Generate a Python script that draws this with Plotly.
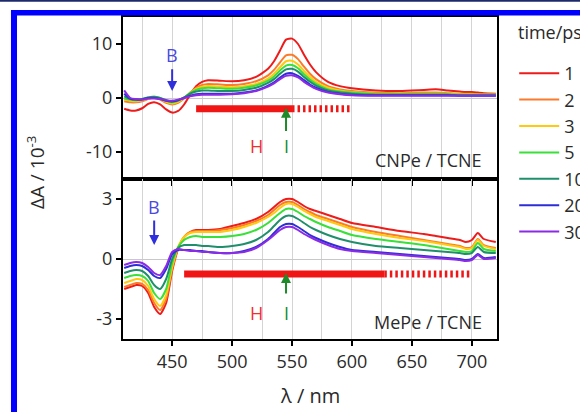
import plotly.graph_objects as go

# ---------------- data ----------------
wavelength_nm = [410, 415, 420, 425, 430, 435, 440, 445, 450, 455, 460, 465, 470, 475, 480,
                 490, 500, 510, 520, 530, 535, 540, 545, 550, 555, 560, 565, 570, 580, 590,
                 600, 620, 640, 660, 670, 680, 690, 695, 700, 705, 710, 720]

time_labels = ["1", "2", "3", "5", "10", "20", "30"]

# CNPe / TCNE  (dA / 1e-3)
cnpe_1ps = [-2.0, -2.3, -2.3, -1.9, -1.1, -0.8, -1.2, -2.1, -2.7, -2.4, -1.2, 0.6, 2.2, 3.0, 3.3,
            3.2, 3.1, 3.3, 3.9, 5.4, 6.8, 8.8, 10.8, 11.0, 10.0, 8.0, 6.2, 4.8, 3.0, 2.2,
            1.8, 1.4, 1.3, 1.5, 1.6, 1.4, 1.2, 1.1, 1.1, 1.0, 0.9, 0.8]
cnpe_2ps = [-0.6, -0.8, -0.8, -0.6, -0.2, 0.1, -0.3, -0.9, -1.2, -0.9, -0.1, 1.0, 1.9, 2.4, 2.6,
            2.5, 2.4, 2.6, 3.1, 4.2, 5.2, 6.6, 7.9, 8.0, 7.2, 5.8, 4.5, 3.5, 2.2, 1.6,
            1.3, 1.0, 0.9, 1.0, 1.0, 0.9, 0.8, 0.8, 0.8, 0.7, 0.7, 0.7]
cnpe_3ps = [-0.3, -0.5, -0.6, -0.4, -0.1, 0.2, -0.2, -0.7, -1.0, -0.7, 0.0, 0.9, 1.7, 2.1, 2.2,
            2.1, 2.0, 2.2, 2.6, 3.6, 4.5, 5.7, 6.8, 6.9, 6.2, 5.0, 3.9, 3.0, 1.9, 1.4,
            1.1, 0.8, 0.8, 0.8, 0.8, 0.8, 0.7, 0.7, 0.7, 0.6, 0.6, 0.6]
cnpe_5ps = [-0.1, -0.3, -0.4, -0.2, 0.1, 0.3, 0.0, -0.5, -0.8, -0.5, 0.1, 0.9, 1.5, 1.8, 1.9,
            1.8, 1.7, 1.9, 2.3, 3.2, 4.0, 5.1, 6.0, 6.1, 5.5, 4.4, 3.4, 2.6, 1.6, 1.2,
            1.0, 0.7, 0.7, 0.7, 0.7, 0.7, 0.6, 0.6, 0.6, 0.6, 0.6, 0.6]
cnpe_10ps = [0.3, -0.2, -0.3, -0.2, 0.1, 0.2, 0.0, -0.4, -0.7, -0.4, 0.1, 0.8, 1.2, 1.4, 1.4,
             1.3, 1.3, 1.5, 1.9, 2.8, 3.5, 4.5, 5.3, 5.4, 4.9, 3.9, 3.0, 2.3, 1.4, 1.0,
             0.8, 0.6, 0.6, 0.6, 0.6, 0.6, 0.5, 0.5, 0.5, 0.5, 0.5, 0.5]
cnpe_20ps = [0.8, -0.1, -0.3, -0.3, 0.0, 0.0, -0.2, -0.5, -0.6, -0.4, 0.0, 0.4, 0.7, 0.8, 0.8,
             0.8, 0.8, 1.0, 1.4, 2.3, 2.9, 3.8, 4.5, 4.6, 4.1, 3.3, 2.5, 1.9, 1.1, 0.8,
             0.6, 0.5, 0.5, 0.5, 0.5, 0.5, 0.4, 0.4, 0.4, 0.4, 0.4, 0.4]
cnpe_30ps = [1.4, 0.0, -0.2, -0.3, -0.1, -0.1, -0.2, -0.4, -0.5, -0.3, 0.0, 0.3, 0.5, 0.6, 0.6,
             0.6, 0.7, 0.9, 1.3, 2.1, 2.7, 3.5, 4.1, 4.2, 3.8, 3.0, 2.3, 1.7, 1.0, 0.7,
             0.5, 0.4, 0.4, 0.4, 0.4, 0.4, 0.4, 0.4, 0.4, 0.4, 0.4, 0.4]

# MePe / TCNE  (dA / 1e-3)
mepe_1ps = [-1.5, -1.4, -1.3, -1.35, -1.7, -2.4, -2.75, -2.2, -0.6, 0.5, 1.1, 1.35, 1.45, 1.45, 1.45,
            1.5, 1.65, 1.8, 2.0, 2.35, 2.6, 2.85, 3.0, 3.0, 2.85, 2.65, 2.5, 2.4, 2.2, 2.0,
            1.8, 1.6, 1.4, 1.25, 1.15, 1.05, 0.95, 0.85, 0.95, 1.3, 1.0, 0.85]
mepe_2ps = [-1.4, -1.3, -1.2, -1.25, -1.55, -2.2, -2.55, -2.0, -0.5, 0.55, 1.1, 1.35, 1.4, 1.4, 1.4,
            1.45, 1.55, 1.7, 1.9, 2.2, 2.45, 2.7, 2.85, 2.85, 2.7, 2.5, 2.35, 2.2, 2.0, 1.8,
            1.6, 1.35, 1.15, 0.95, 0.85, 0.75, 0.65, 0.55, 0.6, 1.0, 0.7, 0.55]
mepe_3ps = [-1.2, -1.1, -1.0, -1.05, -1.35, -2.0, -2.35, -1.8, -0.4, 0.6, 1.1, 1.3, 1.35, 1.35, 1.35,
            1.35, 1.45, 1.6, 1.8, 2.1, 2.3, 2.55, 2.75, 2.75, 2.6, 2.4, 2.25, 2.1, 1.9, 1.7,
            1.5, 1.25, 1.05, 0.9, 0.8, 0.7, 0.6, 0.5, 0.55, 0.95, 0.65, 0.5]
mepe_5ps = [-0.95, -0.85, -0.8, -0.85, -1.1, -1.7, -2.0, -1.5, -0.2, 0.6, 0.95, 1.1, 1.15, 1.1, 1.1,
            1.1, 1.15, 1.25, 1.45, 1.8, 2.05, 2.3, 2.5, 2.5, 2.35, 2.15, 2.0, 1.85, 1.6, 1.4,
            1.2, 1.0, 0.85, 0.7, 0.6, 0.5, 0.4, 0.35, 0.4, 0.8, 0.5, 0.4]
mepe_10ps = [-0.7, -0.6, -0.55, -0.6, -0.85, -1.3, -1.5, -1.0, 0.0, 0.55, 0.7, 0.7, 0.7, 0.65, 0.65,
             0.6, 0.65, 0.75, 0.95, 1.35, 1.65, 1.95, 2.15, 2.15, 2.0, 1.8, 1.6, 1.45, 1.2, 1.0,
             0.85, 0.65, 0.55, 0.45, 0.4, 0.35, 0.3, 0.25, 0.3, 0.6, 0.35, 0.3]
mepe_20ps = [-0.45, -0.35, -0.3, -0.35, -0.55, -0.85, -0.95, -0.5, 0.25, 0.45, 0.45, 0.45, 0.4, 0.4, 0.35,
             0.3, 0.3, 0.4, 0.6, 1.0, 1.3, 1.6, 1.75, 1.75, 1.6, 1.4, 1.2, 1.05, 0.8, 0.6,
             0.45, 0.35, 0.25, 0.15, 0.1, 0.05, 0.0, -0.05, 0.0, 0.25, 0.05, 0.1]
mepe_30ps = [-0.3, -0.2, -0.15, -0.2, -0.4, -0.7, -0.8, -0.35, 0.35, 0.5, 0.45, 0.4, 0.4, 0.35, 0.35,
             0.3, 0.3, 0.35, 0.55, 0.95, 1.2, 1.45, 1.6, 1.6, 1.45, 1.25, 1.1, 0.95, 0.7, 0.5,
             0.4, 0.3, 0.2, 0.1, 0.05, 0.0, -0.05, -0.1, -0.05, 0.2, 0.0, 0.05]

cnpe_series = [cnpe_1ps, cnpe_2ps, cnpe_3ps, cnpe_5ps, cnpe_10ps, cnpe_20ps, cnpe_30ps]
mepe_series = [mepe_1ps, mepe_2ps, mepe_3ps, mepe_5ps, mepe_10ps, mepe_20ps, mepe_30ps]

# band markers (nm) and their levels
top_B_nm, bottom_B_nm = 450, 435
top_H_solid = [470, 550]
top_H_dashed = [550, 600]
top_H_level = -2.0
bottom_H_solid = [460, 627]
bottom_H_dashed = [627, 700]
bottom_H_level = -0.75
I_nm = 545
H_label_nm = 520

x_ticks = [450, 500, 550, 600, 650, 700]
top_y_ticks = [-10, 0, 10]
top_y_ticktext = ["-10", "0", "10"]
bottom_y_ticks = [-3, 0, 3]
bottom_y_ticktext = ["-3", "0", "3"]

# ---------------- styling ----------------
colors = ["#ee1b1b", "#fb7b2a", "#ffc90e", "#38e038", "#1f8f6b", "#2e2ed6", "#8c2be6"]
RED, GREEN, BLUE = "#f01616", "#1e8a2a", "#2f2fdc"
FONT = "Open Sans"
TXT = "#2a2a2a"

fig = go.Figure()

for lab, ys, col in zip(time_labels, cnpe_series, colors):
    fig.add_trace(go.Scatter(x=wavelength_nm, y=ys, mode="lines", name=lab,
                             line=dict(color=col, width=2, shape="spline", smoothing=0.6),
                             xaxis="x", yaxis="y", legendgroup=lab))
for lab, ys, col in zip(time_labels, mepe_series, colors):
    fig.add_trace(go.Scatter(x=wavelength_nm, y=ys, mode="lines", name=lab, showlegend=False,
                             line=dict(color=col, width=2, shape="spline", smoothing=0.6),
                             xaxis="x2", yaxis="y2", legendgroup=lab))

# H bands (red bars)
for xs, lvl, ax, dash in [(top_H_solid, top_H_level, ("x", "y"), "solid"),
                          (top_H_dashed, top_H_level, ("x", "y"), "2.5px,3px"),
                          (bottom_H_solid, bottom_H_level, ("x2", "y2"), "solid"),
                          (bottom_H_dashed, bottom_H_level, ("x2", "y2"), "2.5px,3px")]:
    fig.add_trace(go.Scatter(x=xs, y=[lvl, lvl], mode="lines", showlegend=False, hoverinfo="skip",
                             line=dict(color=RED, width=7, dash=dash), xaxis=ax[0], yaxis=ax[1]))

ann = []
def arrow(x, y0, y1, xr, yr, col):
    ann.append(dict(x=x, y=y1, ax=x, ay=y0, xref=xr, yref=yr, axref=xr, ayref=yr, text="",
                    showarrow=True, arrowhead=2, arrowsize=1, arrowwidth=2, arrowcolor=col))
def label(x, y, t, xr, yr, col, size=18, xanchor="center", yanchor="middle", **kw):
    ann.append(dict(x=x, y=y, xref=xr, yref=yr, text=t, showarrow=False,
                    xanchor=xanchor, yanchor=yanchor,
                    font=dict(color=col, size=size, family=FONT), **kw))

# top panel
label(top_B_nm, 8.0, "B", "x", "y", "#4a4ae0")
arrow(top_B_nm, 5.6, 1.3, "x", "y", BLUE)
arrow(I_nm, -6.4, top_H_level + 0.2, "x", "y", GREEN)
label(H_label_nm, -8.8, "H", "x", "y", "#f03030")
label(I_nm, -8.8, "I", "x", "y", GREEN)
# bottom panel
label(bottom_B_nm, 2.6, "B", "x2", "y2", "#4a4ae0")
arrow(bottom_B_nm, 2.0, 0.7, "x2", "y2", BLUE)
arrow(I_nm, -1.8, bottom_H_level + 0.05, "x2", "y2", GREEN)
label(H_label_nm, -2.7, "H", "x2", "y2", "#f03030")
label(I_nm, -2.7, "I", "x2", "y2", GREEN)

# panel names
label(0.966, -11.5, "CNPe / TCNE", "paper", "y", TXT, xanchor="right")
label(0.966, -3.15, "MePe / TCNE", "paper", "y2", TXT, xanchor="right")
# axis titles
label(-0.232, 0.516, "ΔA / 10<sup>-3</sup>", "paper", "paper", TXT, size=19, textangle=-90)
label(0.5, -0.174, "λ / nm", "paper", "paper", TXT, size=20)
# legend title
label(1.05, 0.953, "time/ps", "paper", "paper", TXT, size=18, xanchor="left")

# decorative frame of the figure
shapes = [
    dict(type="rect", xref="paper", yref="paper", x0=-0.33, x1=1.23, y0=1.047, y1=1.06,
         fillcolor="#1c2a6b", line_width=0),
    dict(type="rect", xref="paper", yref="paper", x0=-0.2995, x1=1.23, y0=1.0047, y1=1.0217,
         fillcolor="#0000ff", line_width=0),
    dict(type="rect", xref="paper", yref="paper", x0=-0.2995, x1=-0.2834, y0=-0.25, y1=1.0217,
         fillcolor="#0000ff", line_width=0),
]

xcommon = dict(range=[409, 721], showline=True, mirror=True, linecolor="black", linewidth=2,
               tickvals=x_ticks, ticks="outside", ticklen=5, tickwidth=1.5, tickcolor="black",
               showgrid=True, gridcolor="#d4d4d4", gridwidth=1,
               minor=dict(tick0=425, dtick=25, showgrid=True, gridcolor="#d4d4d4", gridwidth=1, ticks=""),
               zeroline=False, tickfont=dict(size=18, family=FONT, color=TXT))
ycommon = dict(showline=True, mirror=True, linecolor="black", linewidth=2, ticks="outside",
               ticklen=5, tickwidth=1.5, tickcolor="black", showgrid=False,
               zeroline=True, zerolinecolor="#c8c8c8", zerolinewidth=1,
               tickfont=dict(size=18, family=FONT, color=TXT))

split = 160 / 322
fig.update_layout(
    width=580, height=412,
    margin=dict(l=123, r=83, t=17, b=73, autoexpand=False),
    paper_bgcolor="white", plot_bgcolor="white",
    font=dict(family=FONT, size=18, color=TXT),
    xaxis=dict(xcommon, anchor="y", showticklabels=False),
    xaxis2=dict(xcommon, anchor="y2", matches="x"),
    yaxis=dict(ycommon, domain=[split, 1], range=[-15, 15], tickvals=top_y_ticks,
               ticktext=top_y_ticktext, anchor="x"),
    yaxis2=dict(ycommon, domain=[0, split], range=[-4, 4], tickvals=bottom_y_ticks,
                ticktext=bottom_y_ticktext, anchor="x2"),
    legend=dict(x=1.046, xanchor="left", y=0.882, yanchor="top", font=dict(size=18, family=FONT, color=TXT),
                bgcolor="rgba(0,0,0,0)", tracegroupgap=0, itemwidth=40),
    annotations=ann, shapes=shapes, showlegend=True,
)

fig.write_html("out.html", config={"displayModeBar": False},
               post_script="document.body.style.margin='0';document.body.style.overflow='hidden';")
